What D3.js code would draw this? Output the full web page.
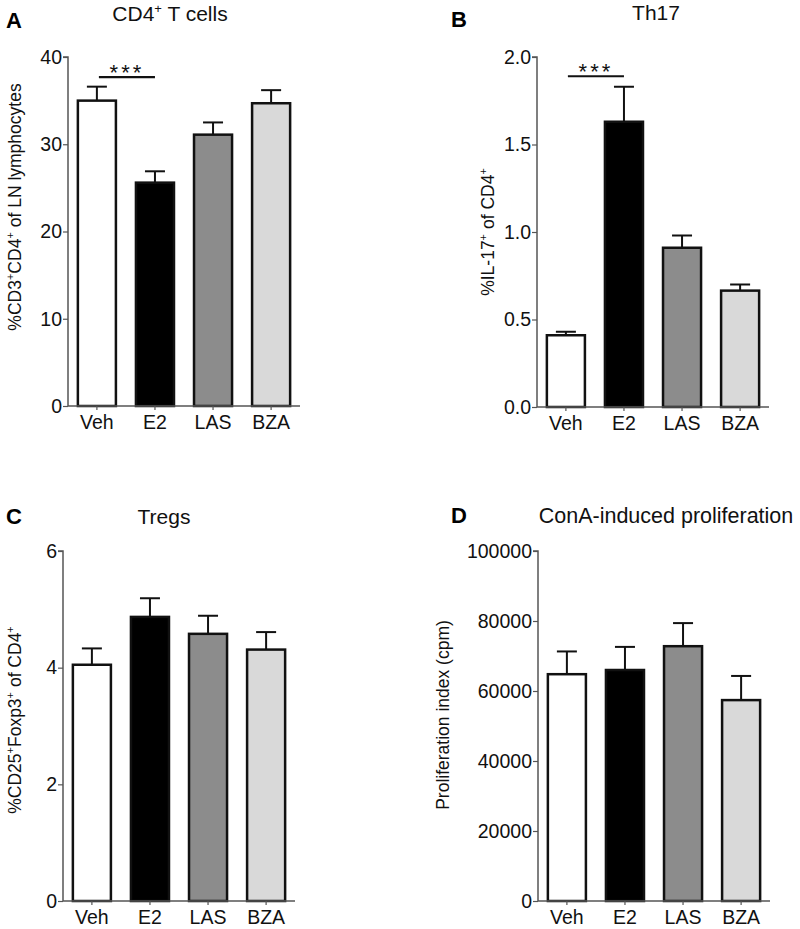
<!DOCTYPE html>
<html>
<head>
<meta charset="utf-8">
<script src="https://cdn.jsdelivr.net/npm/d3@7"></script>
<style>
  body { margin: 0; background: #fff; }
  svg { display: block; font-family: "Liberation Sans", Arial, Helvetica, sans-serif; }
</style>
</head>
<body>
<svg id="chart" width="800" height="929"></svg>
<script>
// ---- Data ----
const categories = ["Veh", "E2", "LAS", "BZA"];
const barColors = ["#ffffff", "#000000", "#8c8c8c", "#d9d9d9"];

// Panel A: CD4+ T cells
const cd4Mean = [35.0, 25.6, 31.1, 34.7];
const cd4Err  = [36.6, 26.9, 32.5, 36.2];
const cd4Ticks = [0, 10, 20, 30, 40];

// Panel B: Th17
const th17Mean = [0.41, 1.63, 0.91, 0.665];
const th17Err  = [0.43, 1.83, 0.98, 0.70];
const th17Ticks = [0, 0.5, 1.0, 1.5, 2.0];

// Panel C: Tregs
const tregMean = [4.05, 4.87, 4.58, 4.31];
const tregErr  = [4.33, 5.19, 4.89, 4.61];
const tregTicks = [0, 2, 4, 6];

// Panel D: ConA-induced proliferation
const prolMean = [64800, 66000, 72800, 57400];
const prolErr  = [71300, 72600, 79400, 64300];
const prolTicks = [0, 20000, 40000, 60000, 80000, 100000];

// Significance annotations: [from, to, level]
const sigA = ["Veh", "E2", 37.7];
const sigB = ["Veh", "E2", 1.89];

const svg = d3.select("#chart");

function addRich(textSel, parts, big, small, up) {
  parts.forEach(p => {
    textSel.append("tspan").text(p[0])
      .attr("font-size", p[1] === 1 ? small : big)
      .attr("dy", p[1] === 1 ? -up : (p[1] === -1 ? up : 0));
  });
}

function drawPanel(o) {
  const g = svg.append("g");
  const x = d3.scaleBand().domain(categories)
    .range([o.x0, o.x0 + 232]).paddingInner(0.345).paddingOuter(0.17);
  const y = d3.scaleLinear().domain([0, o.max]).range([o.yb, o.yt]);

  const data = categories.map((c, i) => ({c, m: o.mean[i], e: o.err[i], col: barColors[i]}));
  // error bars (upper only)
  const eb = g.append("g");
  data.forEach(d => {
    const cx = x(d.c) + x.bandwidth() / 2;
    eb.append("line").attr("x1", cx).attr("x2", cx)
      .attr("y1", y(d.m)).attr("y2", y(d.e))
      .attr("stroke", "#111").attr("stroke-width", 2);
    eb.append("line").attr("x1", cx - 10).attr("x2", cx + 10)
      .attr("y1", y(d.e)).attr("y2", y(d.e))
      .attr("stroke", "#111").attr("stroke-width", 2);
  });
  g.selectAll("rect.bar").data(data).join("rect")
    .attr("class", "bar")
    .attr("x", d => x(d.c))
    .attr("y", d => y(d.m))
    .attr("width", x.bandwidth())
    .attr("height", d => y(0) - y(d.m))
    .attr("fill", d => d.col)
    .attr("stroke", "#111").attr("stroke-width", 2.5);

  // axes
  const yAxis = g.append("g").attr("transform", `translate(${o.x0},0)`)
    .call(d3.axisLeft(y).tickValues(o.ticks).tickSize(5).tickPadding(1)
      .tickFormat(o.fmt));
  const xAxis = g.append("g").attr("transform", `translate(0,${o.yb})`)
    .call(d3.axisBottom(x).tickSize(4).tickPadding(5).tickSizeOuter(0));
  [yAxis, xAxis].forEach(a => {
    a.select(".domain").attr("stroke", "#555").attr("stroke-width", 1.5);
    a.selectAll(".tick line").attr("stroke", "#555").attr("stroke-width", 1.2);
    a.selectAll(".tick text").attr("fill", "#111").attr("font-size", 19.5)
      .attr("font-family", '"Liberation Sans", Arial, sans-serif');
  });
  yAxis.select(".domain").attr("d", `M-5,${o.yt}H0V${o.yb}`);
  xAxis.select(".domain").attr("d", `M${o.x0},0H${o.x0 + 232}`);

  // title
  const t = g.append("text").attr("x", o.tx).attr("y", o.ty)
    .attr("text-anchor", "middle").attr("fill", "#111");
  addRich(t, o.title, o.tsize || 21, 13, 8);
  // panel letter
  g.append("text").attr("x", o.lx).attr("y", o.ly)
    .attr("font-size", 22).attr("font-weight", "bold").attr("fill", "#000").text(o.letter);

  // y label
  const yl = g.append("text")
    .attr("transform", `translate(${o.ylx},${o.yly}) rotate(-90)`)
    .attr("text-anchor", "middle").attr("fill", "#111");
  addRich(yl, o.ylabel, 17.5, 11, 7);

  // significance
  if (o.sig) {
    const x1 = x(o.sig[0]) + x.bandwidth() / 2, x2 = x(o.sig[1]) + x.bandwidth() / 2;
    const ys = y(o.sig[2]);
    g.append("line").attr("x1", x1 + 2).attr("x2", x2).attr("y1", ys).attr("y2", ys)
      .attr("stroke", "#111").attr("stroke-width", 2.2);
    g.append("text").attr("x", (x1 + x2) / 2 + 1).attr("y", ys + 3)
      .attr("text-anchor", "middle").attr("font-size", 22).attr("letter-spacing", 3)
      .attr("fill", "#111").text("***");
  }
}

drawPanel({
  x0: 68, yt: 57, yb: 406, max: 40, mean: cd4Mean, err: cd4Err, ticks: cd4Ticks,
  fmt: d3.format("d"),
  title: [["CD4"], ["+", 1], [" T cells", -1]], tx: 170, ty: 21,
  letter: "A", lx: 6, ly: 28,
  ylabel: [["%CD3"], ["+", 1], ["CD4", -1], ["+", 1], [" of LN lymphocytes", -1]], ylx: 21, yly: 207,
  sig: sigA
});
drawPanel({
  x0: 537, yt: 57, yb: 407, max: 2.0, mean: th17Mean, err: th17Err, ticks: th17Ticks,
  fmt: d3.format(".1f"),
  title: [["Th17"]], tx: 656, ty: 20,
  letter: "B", lx: 451, ly: 27,
  ylabel: [["%IL-17"], ["+", 1], [" of CD4", -1], ["+", 1]], ylx: 494, yly: 232,
  sig: sigB
});
drawPanel({
  x0: 63, yt: 551, yb: 901, max: 6, mean: tregMean, err: tregErr, ticks: tregTicks,
  fmt: d3.format("d"),
  title: [["Tregs"]], tx: 164, ty: 524,
  letter: "C", lx: 6, ly: 524,
  ylabel: [["%CD25"], ["+", 1], ["Foxp3", -1], ["+", 1], [" of CD4", -1], ["+", 1]], ylx: 21, yly: 720,
  sig: null
});
drawPanel({
  x0: 538, yt: 551, yb: 901, max: 100000, mean: prolMean, err: prolErr, ticks: prolTicks,
  fmt: d3.format("d"),
  title: [["ConA-induced proliferation"]], tx: 666, ty: 523, tsize: 21.5,
  letter: "D", lx: 451, ly: 523,
  ylabel: [["Proliferation index (cpm)"]], ylx: 449, yly: 715,
  sig: null
});
</script>
</body>
</html>
